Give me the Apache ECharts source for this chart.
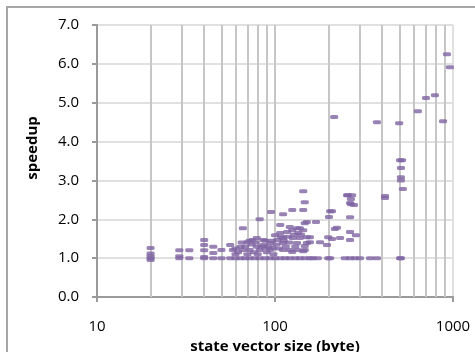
<!DOCTYPE html>
<html>
<head>
<meta charset="utf-8">
<script src="https://cdn.jsdelivr.net/npm/echarts@6/dist/echarts.min.js"></script>
<style>
  html, body { margin: 0; padding: 0; background: #fff; overflow: hidden; }
  #frame { position: absolute; left: 6px; top: 6px; width: 600px; height: 600px; border: 2px solid #a6a6a6; }
  #chart { position: absolute; left: 0; top: 0; width: 475px; height: 352px; }
</style>
</head>
<body>
<div id="frame"></div>
<div id="chart"></div>
<script>
// [state vector size (byte), speedup]
const smallStates = [
  [20, 1.26], [20, 1.12], [20, 1.05], [20, 1.0], [20, 0.95],
  [29, 1.2], [29, 1.05], [29, 1.0], [33, 1.2], [33, 1.0],
  [40, 1.47], [40, 1.34], [40, 1.2], [40, 1.03], [40, 1.0],
  [45, 1.29], [45, 1.13], [45, 1.0], [50, 1.21], [50, 1.0]
];
const midStates = [
  [56, 1.34], [58, 1.21], [64, 1.29], [66, 1.21], [70, 1.41], [72, 1.21], [75, 1.47],
  [79, 1.52], [79, 1.29], [82, 1.21], [86, 1.47], [86, 1.34], [94, 1.39], [94, 1.21],
  [100, 1.59], [103, 1.47], [107, 1.65], [111, 1.52], [111, 1.39], [111, 1.21], [117, 1.67],
  [121, 1.21], [125, 1.72], [126, 1.52], [133, 1.77], [133, 1.39], [133, 1.21], [138, 1.52],
  [144, 1.72], [147, 1.21], [151, 1.54], [151, 1.39],
  [60, 1.1], [62, 1.15], [68, 1.3], [70, 1.1], [74, 1.35], [76, 1.15], [78, 1.4], [80, 1.1],
  [84, 1.3], [88, 1.45], [90, 1.15], [92, 1.3], [96, 1.45], [98, 1.1], [102, 1.35], [105, 1.25],
  [108, 1.55], [112, 1.45], [115, 1.3], [118, 1.55], [120, 1.4], [128, 1.6], [130, 1.3],
  [135, 1.65], [140, 1.6], [60, 1.25], [88, 1.25], [72, 1.45], [65, 1.4],
  [66, 1.77], [82, 2.0], [95, 2.19], [111, 2.13], [125, 2.24], [144, 2.24], [144, 2.72],
  [147, 2.44], [147, 1.9], [107, 1.85], [151, 1.93], [170, 1.93], [204, 2.21], [201, 2.06],
  [217, 1.75], [264, 1.67], [232, 1.52], [199, 1.54], [179, 1.41], [157, 1.54], [157, 1.41],
  [147, 1.31], [144, 1.18], [125, 1.16], [97, 1.26], [196, 1.34], [264, 1.47], [121, 1.8],
  [138, 1.77]
];
const largeStates = [
  [254, 2.62], [264, 2.42], [257, 2.62], [271, 2.62], [267, 2.52], [267, 2.39], [278, 2.37],
  [209, 2.21], [264, 2.05], [223, 1.78], [209, 1.49], [285, 1.59], [415, 2.6], [415, 2.55],
  [504, 3.52], [517, 3.52], [510, 3.32], [510, 3.08], [510, 3.0], [523, 2.78], [498, 4.47],
  [374, 4.5], [215, 4.63], [635, 4.78], [705, 5.12], [792, 5.19], [879, 4.52], [925, 6.25],
  [961, 5.91]
];
// sizes that showed no speedup (1.0)
const baselineSizes = [56, 60, 64, 68, 72, 77, 82, 88, 94, 100, 107, 114, 121, 130, 138, 147,
  157, 163, 174, 199, 204, 247, 264, 281, 300, 342, 374, 504, 510];

const yTicks = [0, 1, 2, 3, 4, 5, 6, 7];
const minorGridSizes = [20, 30, 40, 50, 60, 70, 80, 90, 100, 200, 300, 400, 500, 600, 700, 800, 900];

const points = smallStates
  .concat(midStates)
  .concat(baselineSizes.map(s => [s, 1.0]))
  .concat(largeStates);

const font = '"Open Sans", "Noto Sans", sans-serif';
const axisGray = '#9a9a9a';

const chart = echarts.init(document.getElementById('chart'));

chart.setOption({
  animation: false,
  textStyle: { fontFamily: font },
  grid: { left: 97, right: 22, top: 25, bottom: 55, outerBoundsMode: 'none', containLabel: false },
  xAxis: {
    type: 'log',
    logBase: 10,
    min: 10,
    max: 1000,
    name: 'state vector size (byte)',
    nameLocation: 'middle',
    nameGap: 40,
    nameTextStyle: { fontFamily: font, fontWeight: 'bold', fontSize: 15, color: '#000' },
    axisLine: { lineStyle: { color: axisGray, width: 2 } },
    axisTick: { show: true, length: 5, lineStyle: { color: axisGray, width: 2 } },
    axisLabel: { fontFamily: font, fontSize: 15, color: '#000', margin: 22, formatter: v => String(v) },
    splitLine: { show: true, lineStyle: { color: '#e0e0e0', width: 2 } }
  },
  yAxis: {
    type: 'value',
    min: yTicks[0],
    max: yTicks[yTicks.length - 1],
    interval: 1,
    axisLine: { show: true, lineStyle: { color: axisGray, width: 2 } },
    axisTick: { show: true, length: 5, lineStyle: { color: axisGray, width: 2 } },
    axisLabel: {
      fontFamily: font, fontSize: 15, color: '#000', margin: 18,
      formatter: v => v.toFixed(1)
    },
    splitLine: { show: true, lineStyle: { color: '#e0e0e0', width: 2 } }
  },
  graphic: [{
    type: 'text',
    x: 33,
    y: 148,
    rotation: Math.PI / 2,
    style: {
      text: 'speedup',
      fill: '#000',
      font: 'bold 15px ' + font,
      align: 'center',
      verticalAlign: 'middle'
    }
  }],
  series: [
    {
      // vertical log gridlines between decades
      type: 'line',
      data: [],
      silent: true,
      markLine: {
        silent: true,
        z: 1,
        symbol: ['none', 'none'],
        label: { show: false },
        lineStyle: { color: '#c6c6c6', width: 2, type: 'solid' },
        data: minorGridSizes.map(v => ({ xAxis: v }))
      }
    },
    {
      name: 'speedup',
      type: 'scatter',
      data: points,
      symbol: 'roundRect',
      symbolSize: [8, 4],
      itemStyle: { color: '#8064A2' },
      z: 3
    }
  ]
});
</script>
</body>
</html>
